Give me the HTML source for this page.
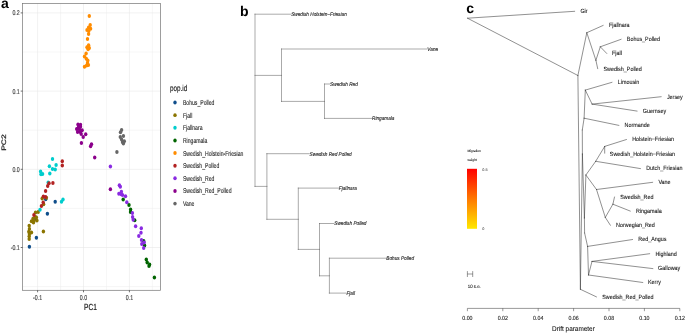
<!DOCTYPE html>
<html><head><meta charset="utf-8"><title>figure</title>
<style>
html,body{margin:0;padding:0;background:#fff;}
body{width:685px;height:333px;overflow:hidden;}
svg{display:block;font-family:"Liberation Sans",sans-serif;will-change:transform;text-rendering:geometricPrecision;}
</style></head><body>
<svg width="685" height="333" viewBox="0 0 685 333">
<rect x="0" y="0" width="685" height="333" fill="#ffffff"/>

<g id="panel-a">
<line x1="60.55" y1="3.4" x2="60.55" y2="290.3" stroke="#ececec" stroke-width="0.5"/>
<line x1="106.45" y1="3.4" x2="106.45" y2="290.3" stroke="#ececec" stroke-width="0.5"/>
<line x1="152.35" y1="3.4" x2="152.35" y2="290.3" stroke="#ececec" stroke-width="0.5"/>
<line x1="22.5" y1="286.60" x2="160.4" y2="286.60" stroke="#ececec" stroke-width="0.5"/>
<line x1="22.5" y1="208.40" x2="160.4" y2="208.40" stroke="#ececec" stroke-width="0.5"/>
<line x1="22.5" y1="130.20" x2="160.4" y2="130.20" stroke="#ececec" stroke-width="0.5"/>
<line x1="22.5" y1="52.00" x2="160.4" y2="52.00" stroke="#ececec" stroke-width="0.5"/>
<line x1="37.60" y1="3.4" x2="37.60" y2="290.3" stroke="#e8e8e8" stroke-width="0.6"/>
<line x1="83.50" y1="3.4" x2="83.50" y2="290.3" stroke="#e8e8e8" stroke-width="0.6"/>
<line x1="129.40" y1="3.4" x2="129.40" y2="290.3" stroke="#e8e8e8" stroke-width="0.6"/>
<line x1="22.5" y1="247.50" x2="160.4" y2="247.50" stroke="#e8e8e8" stroke-width="0.6"/>
<line x1="22.5" y1="169.30" x2="160.4" y2="169.30" stroke="#e8e8e8" stroke-width="0.6"/>
<line x1="22.5" y1="91.10" x2="160.4" y2="91.10" stroke="#e8e8e8" stroke-width="0.6"/>
<line x1="22.5" y1="12.90" x2="160.4" y2="12.90" stroke="#e8e8e8" stroke-width="0.6"/>
<ellipse cx="45.7" cy="199.2" rx="1.7" ry="1.98" fill="#104e8b"/>
<ellipse cx="55.2" cy="201.7" rx="1.7" ry="1.98" fill="#104e8b"/>
<ellipse cx="47.4" cy="213.8" rx="1.7" ry="1.98" fill="#104e8b"/>
<ellipse cx="34.6" cy="218.9" rx="1.7" ry="1.98" fill="#104e8b"/>
<ellipse cx="36.4" cy="237.8" rx="1.7" ry="1.98" fill="#104e8b"/>
<ellipse cx="29.4" cy="246.8" rx="1.7" ry="1.98" fill="#104e8b"/>
<ellipse cx="42.2" cy="198.5" rx="1.7" ry="1.98" fill="#8b7500"/>
<ellipse cx="46.4" cy="197.7" rx="1.7" ry="1.98" fill="#8b7500"/>
<ellipse cx="43.6" cy="204.3" rx="1.7" ry="1.98" fill="#8b7500"/>
<ellipse cx="35.5" cy="212.4" rx="1.7" ry="1.98" fill="#8b7500"/>
<ellipse cx="38.2" cy="212" rx="1.7" ry="1.98" fill="#8b7500"/>
<ellipse cx="36.4" cy="217.6" rx="1.7" ry="1.98" fill="#8b7500"/>
<ellipse cx="33.0" cy="218.8" rx="1.7" ry="1.98" fill="#8b7500"/>
<ellipse cx="31.5" cy="221.2" rx="1.7" ry="1.98" fill="#8b7500"/>
<ellipse cx="36.9" cy="220.4" rx="1.7" ry="1.98" fill="#8b7500"/>
<ellipse cx="33.5" cy="222.4" rx="1.7" ry="1.98" fill="#8b7500"/>
<ellipse cx="35.3" cy="217.0" rx="1.7" ry="1.98" fill="#8b7500"/>
<ellipse cx="34.0" cy="220.6" rx="1.7" ry="1.98" fill="#8b7500"/>
<ellipse cx="29.2" cy="225.7" rx="1.7" ry="1.98" fill="#8b7500"/>
<ellipse cx="29.4" cy="229" rx="1.7" ry="1.98" fill="#8b7500"/>
<ellipse cx="28.8" cy="231.7" rx="1.7" ry="1.98" fill="#8b7500"/>
<ellipse cx="31.5" cy="232.4" rx="1.7" ry="1.98" fill="#8b7500"/>
<ellipse cx="29.4" cy="234" rx="1.7" ry="1.98" fill="#8b7500"/>
<ellipse cx="43.4" cy="231.5" rx="1.7" ry="1.98" fill="#8b7500"/>
<ellipse cx="29.2" cy="236.2" rx="1.7" ry="1.98" fill="#8b7500"/>
<ellipse cx="29.2" cy="238.9" rx="1.7" ry="1.98" fill="#8b7500"/>
<ellipse cx="52.5" cy="159" rx="1.7" ry="1.98" fill="#00cdcd"/>
<ellipse cx="56.1" cy="165.1" rx="1.7" ry="1.98" fill="#00cdcd"/>
<ellipse cx="49.4" cy="166.2" rx="1.7" ry="1.98" fill="#00cdcd"/>
<ellipse cx="52.5" cy="169.1" rx="1.7" ry="1.98" fill="#00cdcd"/>
<ellipse cx="55.2" cy="169.6" rx="1.7" ry="1.98" fill="#00cdcd"/>
<ellipse cx="40.6" cy="171.6" rx="1.7" ry="1.98" fill="#00cdcd"/>
<ellipse cx="42.6" cy="173.9" rx="1.7" ry="1.98" fill="#00cdcd"/>
<ellipse cx="41" cy="174.3" rx="1.7" ry="1.98" fill="#00cdcd"/>
<ellipse cx="49.8" cy="173.6" rx="1.7" ry="1.98" fill="#00cdcd"/>
<ellipse cx="48.2" cy="182.5" rx="1.7" ry="1.98" fill="#00cdcd"/>
<ellipse cx="63" cy="199.5" rx="1.7" ry="1.98" fill="#00cdcd"/>
<ellipse cx="61.5" cy="201.8" rx="1.7" ry="1.98" fill="#00cdcd"/>
<ellipse cx="40" cy="209.7" rx="1.7" ry="1.98" fill="#00cdcd"/>
<ellipse cx="123.2" cy="199.6" rx="1.7" ry="1.98" fill="#006400"/>
<ellipse cx="129" cy="204.9" rx="1.7" ry="1.98" fill="#006400"/>
<ellipse cx="130.6" cy="209.6" rx="1.7" ry="1.98" fill="#006400"/>
<ellipse cx="130.5" cy="212" rx="1.7" ry="1.98" fill="#006400"/>
<ellipse cx="134.7" cy="220.3" rx="1.7" ry="1.98" fill="#006400"/>
<ellipse cx="143.7" cy="240.9" rx="1.7" ry="1.98" fill="#006400"/>
<ellipse cx="144.6" cy="245.4" rx="1.7" ry="1.98" fill="#006400"/>
<ellipse cx="146.3" cy="259.5" rx="1.7" ry="1.98" fill="#006400"/>
<ellipse cx="147.2" cy="262.6" rx="1.7" ry="1.98" fill="#006400"/>
<ellipse cx="149.6" cy="264.4" rx="1.7" ry="1.98" fill="#006400"/>
<ellipse cx="149" cy="266" rx="1.7" ry="1.98" fill="#006400"/>
<ellipse cx="154.4" cy="277.5" rx="1.7" ry="1.98" fill="#006400"/>
<ellipse cx="89.3" cy="16.1" rx="1.7" ry="1.98" fill="#ff8c00"/>
<ellipse cx="90.2" cy="25.1" rx="1.7" ry="1.98" fill="#ff8c00"/>
<ellipse cx="90.6" cy="28.7" rx="1.7" ry="1.98" fill="#ff8c00"/>
<ellipse cx="88.6" cy="27.4" rx="1.7" ry="1.98" fill="#ff8c00"/>
<ellipse cx="87.0" cy="30.1" rx="1.7" ry="1.98" fill="#ff8c00"/>
<ellipse cx="88.8" cy="31" rx="1.7" ry="1.98" fill="#ff8c00"/>
<ellipse cx="88.6" cy="34.0" rx="1.7" ry="1.98" fill="#ff8c00"/>
<ellipse cx="87.5" cy="38.9" rx="1.7" ry="1.98" fill="#ff8c00"/>
<ellipse cx="88.6" cy="45.2" rx="1.7" ry="1.98" fill="#ff8c00"/>
<ellipse cx="87" cy="47.2" rx="1.7" ry="1.98" fill="#ff8c00"/>
<ellipse cx="89.3" cy="47.9" rx="1.7" ry="1.98" fill="#ff8c00"/>
<ellipse cx="88.1" cy="49.2" rx="1.7" ry="1.98" fill="#ff8c00"/>
<ellipse cx="86.1" cy="53.5" rx="1.7" ry="1.98" fill="#ff8c00"/>
<ellipse cx="84.5" cy="56.5" rx="1.7" ry="1.98" fill="#ff8c00"/>
<ellipse cx="86.3" cy="58.7" rx="1.7" ry="1.98" fill="#ff8c00"/>
<ellipse cx="87.8" cy="60.6" rx="1.7" ry="1.98" fill="#ff8c00"/>
<ellipse cx="87.5" cy="63.1" rx="1.7" ry="1.98" fill="#ff8c00"/>
<ellipse cx="88.4" cy="65.1" rx="1.7" ry="1.98" fill="#ff8c00"/>
<ellipse cx="86.6" cy="65.4" rx="1.7" ry="1.98" fill="#ff8c00"/>
<ellipse cx="84.5" cy="66.7" rx="1.7" ry="1.98" fill="#ff8c00"/>
<ellipse cx="62.3" cy="161.2" rx="1.7" ry="1.98" fill="#b22222"/>
<ellipse cx="62.3" cy="165.5" rx="1.7" ry="1.98" fill="#b22222"/>
<ellipse cx="49" cy="183.3" rx="1.7" ry="1.98" fill="#b22222"/>
<ellipse cx="52.9" cy="183.1" rx="1.7" ry="1.98" fill="#b22222"/>
<ellipse cx="47.7" cy="186" rx="1.7" ry="1.98" fill="#b22222"/>
<ellipse cx="45.6" cy="191" rx="1.7" ry="1.98" fill="#b22222"/>
<ellipse cx="43.4" cy="196.6" rx="1.7" ry="1.98" fill="#b22222"/>
<ellipse cx="45.6" cy="197.1" rx="1.7" ry="1.98" fill="#b22222"/>
<ellipse cx="43.2" cy="202.5" rx="1.7" ry="1.98" fill="#b22222"/>
<ellipse cx="41.4" cy="206.1" rx="1.7" ry="1.98" fill="#b22222"/>
<ellipse cx="33.9" cy="215.1" rx="1.7" ry="1.98" fill="#b22222"/>
<ellipse cx="110.4" cy="166.5" rx="1.7" ry="1.98" fill="#8a2be2"/>
<ellipse cx="119.4" cy="185.2" rx="1.7" ry="1.98" fill="#8a2be2"/>
<ellipse cx="120.3" cy="186.7" rx="1.7" ry="1.98" fill="#8a2be2"/>
<ellipse cx="121.4" cy="191.7" rx="1.7" ry="1.98" fill="#8a2be2"/>
<ellipse cx="118.9" cy="193.7" rx="1.7" ry="1.98" fill="#8a2be2"/>
<ellipse cx="121.2" cy="194.2" rx="1.7" ry="1.98" fill="#8a2be2"/>
<ellipse cx="122.5" cy="194.9" rx="1.7" ry="1.98" fill="#8a2be2"/>
<ellipse cx="125.5" cy="196.2" rx="1.7" ry="1.98" fill="#8a2be2"/>
<ellipse cx="126.8" cy="202.3" rx="1.7" ry="1.98" fill="#8a2be2"/>
<ellipse cx="132.4" cy="212.9" rx="1.7" ry="1.98" fill="#8a2be2"/>
<ellipse cx="132.6" cy="217" rx="1.7" ry="1.98" fill="#8a2be2"/>
<ellipse cx="133.2" cy="219.7" rx="1.7" ry="1.98" fill="#8a2be2"/>
<ellipse cx="135.6" cy="226.2" rx="1.7" ry="1.98" fill="#8a2be2"/>
<ellipse cx="141.3" cy="228.2" rx="1.7" ry="1.98" fill="#8a2be2"/>
<ellipse cx="141" cy="232.8" rx="1.7" ry="1.98" fill="#8a2be2"/>
<ellipse cx="138.8" cy="236.1" rx="1.7" ry="1.98" fill="#8a2be2"/>
<ellipse cx="141.5" cy="240" rx="1.7" ry="1.98" fill="#8a2be2"/>
<ellipse cx="144.2" cy="242.4" rx="1.7" ry="1.98" fill="#8a2be2"/>
<ellipse cx="141.8" cy="244" rx="1.7" ry="1.98" fill="#8a2be2"/>
<ellipse cx="143.7" cy="247.9" rx="1.7" ry="1.98" fill="#8a2be2"/>
<ellipse cx="78" cy="124.5" rx="1.7" ry="1.98" fill="#8b008b"/>
<ellipse cx="80.5" cy="124.7" rx="1.7" ry="1.98" fill="#8b008b"/>
<ellipse cx="80.5" cy="126.7" rx="1.7" ry="1.98" fill="#8b008b"/>
<ellipse cx="78.5" cy="127.2" rx="1.7" ry="1.98" fill="#8b008b"/>
<ellipse cx="76.7" cy="129" rx="1.7" ry="1.98" fill="#8b008b"/>
<ellipse cx="79.4" cy="129.2" rx="1.7" ry="1.98" fill="#8b008b"/>
<ellipse cx="82.1" cy="130.3" rx="1.7" ry="1.98" fill="#8b008b"/>
<ellipse cx="77.6" cy="132.1" rx="1.7" ry="1.98" fill="#8b008b"/>
<ellipse cx="80.3" cy="132.1" rx="1.7" ry="1.98" fill="#8b008b"/>
<ellipse cx="81.2" cy="133.9" rx="1.7" ry="1.98" fill="#8b008b"/>
<ellipse cx="85.7" cy="134.2" rx="1.7" ry="1.98" fill="#8b008b"/>
<ellipse cx="83.2" cy="137.1" rx="1.7" ry="1.98" fill="#8b008b"/>
<ellipse cx="81.4" cy="143" rx="1.7" ry="1.98" fill="#8b008b"/>
<ellipse cx="91.5" cy="144.3" rx="1.7" ry="1.98" fill="#8b008b"/>
<ellipse cx="90.6" cy="146.3" rx="1.7" ry="1.98" fill="#8b008b"/>
<ellipse cx="94.7" cy="157.5" rx="1.7" ry="1.98" fill="#8b008b"/>
<ellipse cx="110.4" cy="189.3" rx="1.7" ry="1.98" fill="#8b008b"/>
<ellipse cx="121.6" cy="129.9" rx="1.7" ry="1.98" fill="#666666"/>
<ellipse cx="120.5" cy="132.2" rx="1.7" ry="1.98" fill="#666666"/>
<ellipse cx="123.4" cy="136" rx="1.7" ry="1.98" fill="#666666"/>
<ellipse cx="120.3" cy="137.1" rx="1.7" ry="1.98" fill="#666666"/>
<ellipse cx="121.6" cy="139.4" rx="1.7" ry="1.98" fill="#666666"/>
<ellipse cx="124.3" cy="141.2" rx="1.7" ry="1.98" fill="#666666"/>
<ellipse cx="122.5" cy="142.1" rx="1.7" ry="1.98" fill="#666666"/>
<ellipse cx="123.4" cy="143.6" rx="1.7" ry="1.98" fill="#666666"/>
<ellipse cx="116.9" cy="152.1" rx="1.7" ry="1.98" fill="#666666"/>
<rect x="22.5" y="3.4" width="137.90" height="286.90" fill="none" stroke="#757575" stroke-width="0.7"/>
<line x1="37.60" y1="290.3" x2="37.60" y2="292.3" stroke="#333" stroke-width="0.7"/>
<text transform="translate(37.60,299.90) scale(0.75,1)" font-size="7.0" text-anchor="middle" fill="#4d4d4d" stroke="#4d4d4d" stroke-width="0.2">-0.1</text>
<line x1="83.50" y1="290.3" x2="83.50" y2="292.3" stroke="#333" stroke-width="0.7"/>
<text transform="translate(83.50,299.90) scale(0.75,1)" font-size="7.0" text-anchor="middle" fill="#4d4d4d" stroke="#4d4d4d" stroke-width="0.2">0.0</text>
<line x1="129.40" y1="290.3" x2="129.40" y2="292.3" stroke="#333" stroke-width="0.7"/>
<text transform="translate(129.40,299.90) scale(0.75,1)" font-size="7.0" text-anchor="middle" fill="#4d4d4d" stroke="#4d4d4d" stroke-width="0.2">0.1</text>
<line x1="20.7" y1="247.50" x2="22.5" y2="247.50" stroke="#333" stroke-width="0.7"/>
<text transform="translate(19.70,250.00) scale(0.75,1)" font-size="7.0" text-anchor="end" fill="#4d4d4d" stroke="#4d4d4d" stroke-width="0.2">-0.1</text>
<line x1="20.7" y1="169.30" x2="22.5" y2="169.30" stroke="#333" stroke-width="0.7"/>
<text transform="translate(19.70,171.80) scale(0.75,1)" font-size="7.0" text-anchor="end" fill="#4d4d4d" stroke="#4d4d4d" stroke-width="0.2">0.0</text>
<line x1="20.7" y1="91.10" x2="22.5" y2="91.10" stroke="#333" stroke-width="0.7"/>
<text transform="translate(19.70,93.60) scale(0.75,1)" font-size="7.0" text-anchor="end" fill="#4d4d4d" stroke="#4d4d4d" stroke-width="0.2">0.1</text>
<line x1="20.7" y1="12.90" x2="22.5" y2="12.90" stroke="#333" stroke-width="0.7"/>
<text transform="translate(19.70,15.40) scale(0.75,1)" font-size="7.0" text-anchor="end" fill="#4d4d4d" stroke="#4d4d4d" stroke-width="0.2">0.2</text>
<text transform="translate(90.40,310.40) scale(0.75,1)" font-size="8.8" text-anchor="middle" fill="#1a1a1a" stroke="#1a1a1a" stroke-width="0.2">PC1</text>
<text transform="translate(5.9,142.5) scale(0.75,1) rotate(-90)" font-size="8.6" text-anchor="middle" fill="#1a1a1a" stroke="#1a1a1a" stroke-width="0.3">PC2</text>
<text x="0.9" y="7.5" font-size="14" font-weight="bold" fill="#000">a</text>
<text transform="translate(169.90,91.40) scale(0.74,1)" font-size="8.6" text-anchor="start" fill="#1a1a1a" stroke="#1a1a1a" stroke-width="0.15">pop.id</text>
<ellipse cx="175" cy="102.50" rx="1.7" ry="1.98" fill="#104e8b"/>
<text transform="translate(182.90,105.00) scale(0.73,1)" font-size="7.0" text-anchor="start" fill="#222" stroke="#222" stroke-width="0.1">Bohus_Polled</text>
<ellipse cx="175" cy="115.14" rx="1.7" ry="1.98" fill="#8b7500"/>
<text transform="translate(182.90,117.64) scale(0.73,1)" font-size="7.0" text-anchor="start" fill="#222" stroke="#222" stroke-width="0.1">Fjall</text>
<ellipse cx="175" cy="127.78" rx="1.7" ry="1.98" fill="#00cdcd"/>
<text transform="translate(182.90,130.28) scale(0.73,1)" font-size="7.0" text-anchor="start" fill="#222" stroke="#222" stroke-width="0.1">Fjallnara</text>
<ellipse cx="175" cy="140.42" rx="1.7" ry="1.98" fill="#006400"/>
<text transform="translate(182.90,142.92) scale(0.73,1)" font-size="7.0" text-anchor="start" fill="#222" stroke="#222" stroke-width="0.1">Ringamala</text>
<ellipse cx="175" cy="153.06" rx="1.7" ry="1.98" fill="#ff8c00"/>
<text transform="translate(182.90,155.56) scale(0.73,1)" font-size="7.0" text-anchor="start" fill="#222" stroke="#222" stroke-width="0.1">Swedish_Holstein-Friesian</text>
<ellipse cx="175" cy="165.70" rx="1.7" ry="1.98" fill="#b22222"/>
<text transform="translate(182.90,168.20) scale(0.73,1)" font-size="7.0" text-anchor="start" fill="#222" stroke="#222" stroke-width="0.1">Swedish_Polled</text>
<ellipse cx="175" cy="178.34" rx="1.7" ry="1.98" fill="#8a2be2"/>
<text transform="translate(182.90,180.84) scale(0.73,1)" font-size="7.0" text-anchor="start" fill="#222" stroke="#222" stroke-width="0.1">Swedish_Red</text>
<ellipse cx="175" cy="190.98" rx="1.7" ry="1.98" fill="#8b008b"/>
<text transform="translate(182.90,193.48) scale(0.73,1)" font-size="7.0" text-anchor="start" fill="#222" stroke="#222" stroke-width="0.1">Swedish_Red_Polled</text>
<ellipse cx="175" cy="203.62" rx="1.7" ry="1.98" fill="#666666"/>
<text transform="translate(182.90,206.12) scale(0.73,1)" font-size="7.0" text-anchor="start" fill="#222" stroke="#222" stroke-width="0.1">Vane</text>
</g>
<g id="panel-b">
<text x="240" y="15.6" font-size="14" font-weight="bold" fill="#000">b</text>
<path d="M255 14.2L255 186.4 M255 14.2L291 14.2 M255 75.4L281.5 75.4 M281.5 49L281.5 101.4 M281.5 49L426.9 49 M281.5 101.4L324.5 101.4 M324.5 84L324.5 118.4 M324.5 84L329.8 84 M324.5 118.4L371.7 118.4 M255 186.4L266.9 186.4 M266.9 153.7L266.9 219.3 M266.9 153.7L309.3 153.7 M266.9 219.3L298.3 219.3 M298.3 188.1L298.3 249.4 M298.3 188.1L338.5 188.1 M298.3 249.4L319.5 249.4 M319.5 223.5L319.5 275.8 M319.5 223.5L334 223.5 M319.5 275.8L329.4 275.8 M329.4 258.2L329.4 293.1 M329.4 258.2L386 258.2 M329.4 293.1L346.1 293.1" fill="none" stroke="#555" stroke-width="0.5" stroke-linecap="square"/>
<text transform="translate(291.2,16.15) scale(0.855,1)" font-size="5.5" font-style="italic" fill="#222" stroke="#222" stroke-width="0.12">Swedish Holstein−Friesian</text>
<text transform="translate(427.3,50.95) scale(0.855,1)" font-size="5.5" font-style="italic" fill="#222" stroke="#222" stroke-width="0.12">Vane</text>
<text transform="translate(330.1,85.95) scale(0.855,1)" font-size="5.5" font-style="italic" fill="#222" stroke="#222" stroke-width="0.12">Swedish Red</text>
<text transform="translate(372,120.35) scale(0.855,1)" font-size="5.5" font-style="italic" fill="#222" stroke="#222" stroke-width="0.12">Ringamala</text>
<text transform="translate(309.6,155.65) scale(0.855,1)" font-size="5.5" font-style="italic" fill="#222" stroke="#222" stroke-width="0.12">Swedish Red Polled</text>
<text transform="translate(338.8,190.05) scale(0.855,1)" font-size="5.5" font-style="italic" fill="#222" stroke="#222" stroke-width="0.12">Fjallnara</text>
<text transform="translate(334.3,225.45) scale(0.855,1)" font-size="5.5" font-style="italic" fill="#222" stroke="#222" stroke-width="0.12">Swedish Polled</text>
<text transform="translate(386.3,260.15) scale(0.855,1)" font-size="5.5" font-style="italic" fill="#222" stroke="#222" stroke-width="0.12">Bohus Polled</text>
<text transform="translate(346.4,295.05) scale(0.855,1)" font-size="5.5" font-style="italic" fill="#222" stroke="#222" stroke-width="0.12">Fjall</text>
</g>
<g id="panel-c">
<text x="466.2" y="12.6" font-size="14" font-weight="bold" fill="#000">c</text>
<path d="M467.5 18.2L574.7 11.3 M467.5 18.2L577.9 75.5 M577.9 75.5L586.8 32.7 M586.8 32.7L603.2 25.4 M586.8 32.7L595.9 60.3 M595.9 60.3L597.7 68.7 M595.9 60.3L600.3 46.8 M600.3 46.8L621.1 39.3 M600.3 46.8L606.8 53.5 M577.9 75.5L580.4 289.3 M580.4 289.3L596.5 296.9 M580.4 289.3L582.4 154 M582.4 154L582.3 130 M582.3 130L584.1 118.2 M584.1 118.2L618.9 125.4 M584.1 118.2L585.3 90.1 M585.3 90.1L612 82.3 M585.3 90.1L592.1 104.1 M592.1 104.1L661.2 96.7 M592.1 104.1L637.1 111.1 M582.4 154L584.4 218 M584.4 218L585.9 175 M585.9 175L595.7 161.3 M595.7 161.3L604.7 146.4 M604.7 146.4L626.5 139.5 M604.7 146.4L604.7 153.2 M595.7 161.3L640.5 168.6 M585.9 175L596.5 189.5 M596.5 189.5L652.7 182.3 M596.5 189.5L605.3 217.4 M605.3 217.4L612.9 204.2 M612.9 204.2L614.5 197 M612.9 204.2L630.3 211.1 M605.3 217.4L610.4 225.3 M584.4 218L584.6 233 M584.6 233L587.6 246.4 M587.6 246.4L632.6 239.5 M587.6 246.4L588.5 275 M588.5 275L592 261.4 M592 261.4L649.7 253.7 M592 261.4L652.9 268.6 M588.5 275L642.8 282.5" fill="none" stroke="#222" stroke-width="0.5" stroke-linecap="round"/>
<text transform="translate(580.40,12.80) scale(0.90,1)" font-size="6.0" fill="#111" stroke="#111" stroke-width="0.08">Gir</text>
<text transform="translate(608.90,26.90) scale(0.90,1)" font-size="6.0" fill="#111" stroke="#111" stroke-width="0.08">Fjallnara</text>
<text transform="translate(626.80,41.10) scale(0.90,1)" font-size="6.0" fill="#111" stroke="#111" stroke-width="0.08">Bohus_Polled</text>
<text transform="translate(612.00,55.30) scale(0.90,1)" font-size="6.0" fill="#111" stroke="#111" stroke-width="0.08">Fjall</text>
<text transform="translate(603.40,70.50) scale(0.90,1)" font-size="6.0" fill="#111" stroke="#111" stroke-width="0.08">Swedish_Polled</text>
<text transform="translate(617.70,84.10) scale(0.90,1)" font-size="6.0" fill="#111" stroke="#111" stroke-width="0.08">Limousin</text>
<text transform="translate(666.90,98.50) scale(0.90,1)" font-size="6.0" fill="#111" stroke="#111" stroke-width="0.08">Jersey</text>
<text transform="translate(642.80,112.90) scale(0.90,1)" font-size="6.0" fill="#111" stroke="#111" stroke-width="0.08">Guernsey</text>
<text transform="translate(624.60,127.20) scale(0.90,1)" font-size="6.0" fill="#111" stroke="#111" stroke-width="0.08">Normande</text>
<text transform="translate(632.20,141.30) scale(0.90,1)" font-size="6.0" fill="#111" stroke="#111" stroke-width="0.08">Holstein−Friesian</text>
<text transform="translate(609.80,155.70) scale(0.90,1)" font-size="6.0" fill="#111" stroke="#111" stroke-width="0.08">Swedish_Holstein−Friesian</text>
<text transform="translate(646.20,170.40) scale(0.90,1)" font-size="6.0" fill="#111" stroke="#111" stroke-width="0.08">Dutch_Friesian</text>
<text transform="translate(658.40,184.10) scale(0.90,1)" font-size="6.0" fill="#111" stroke="#111" stroke-width="0.08">Vane</text>
<text transform="translate(620.20,198.80) scale(0.90,1)" font-size="6.0" fill="#111" stroke="#111" stroke-width="0.08">Swedish_Red</text>
<text transform="translate(636.00,212.90) scale(0.90,1)" font-size="6.0" fill="#111" stroke="#111" stroke-width="0.08">Ringamala</text>
<text transform="translate(616.10,226.60) scale(0.90,1)" font-size="6.0" fill="#111" stroke="#111" stroke-width="0.08">Norwegian_Red</text>
<text transform="translate(638.30,241.30) scale(0.90,1)" font-size="6.0" fill="#111" stroke="#111" stroke-width="0.08">Red_Angus</text>
<text transform="translate(655.40,255.50) scale(0.90,1)" font-size="6.0" fill="#111" stroke="#111" stroke-width="0.08">Highland</text>
<text transform="translate(658.10,270.40) scale(0.90,1)" font-size="6.0" fill="#111" stroke="#111" stroke-width="0.08">Galloway</text>
<text transform="translate(648.00,284.30) scale(0.90,1)" font-size="6.0" fill="#111" stroke="#111" stroke-width="0.08">Kerry</text>
<text transform="translate(602.20,298.70) scale(0.90,1)" font-size="6.0" fill="#111" stroke="#111" stroke-width="0.08">Swedish_Red_Polled</text>
<path d="M467.4 308.4H679.80 M467.40 308.4V311.2 M502.80 308.4V311.2 M538.20 308.4V311.2 M573.60 308.4V311.2 M609.00 308.4V311.2 M644.40 308.4V311.2 M679.80 308.4V311.2" fill="none" stroke="#333" stroke-width="0.5"/>
<text transform="translate(467.40,320.4) scale(0.9,1)" font-size="5.9" text-anchor="middle" fill="#111" stroke="#111" stroke-width="0.08">0.00</text>
<text transform="translate(502.80,320.4) scale(0.9,1)" font-size="5.9" text-anchor="middle" fill="#111" stroke="#111" stroke-width="0.08">0.02</text>
<text transform="translate(538.20,320.4) scale(0.9,1)" font-size="5.9" text-anchor="middle" fill="#111" stroke="#111" stroke-width="0.08">0.04</text>
<text transform="translate(573.60,320.4) scale(0.9,1)" font-size="5.9" text-anchor="middle" fill="#111" stroke="#111" stroke-width="0.08">0.06</text>
<text transform="translate(609.00,320.4) scale(0.9,1)" font-size="5.9" text-anchor="middle" fill="#111" stroke="#111" stroke-width="0.08">0.08</text>
<text transform="translate(644.40,320.4) scale(0.9,1)" font-size="5.9" text-anchor="middle" fill="#111" stroke="#111" stroke-width="0.08">0.10</text>
<text transform="translate(679.80,320.4) scale(0.9,1)" font-size="5.9" text-anchor="middle" fill="#111" stroke="#111" stroke-width="0.08">0.12</text>
<text transform="translate(573.4,331.0) scale(0.93,1)" font-size="6.9" text-anchor="middle" fill="#111" stroke="#111" stroke-width="0.08">Drift parameter</text>
<defs><linearGradient id="mg" x1="0" y1="0" x2="0" y2="1"><stop offset="0" stop-color="#ff0000"/><stop offset="0.5" stop-color="#ff7800"/><stop offset="1" stop-color="#ffe800"/></linearGradient></defs>
<rect x="467" y="168.8" width="10" height="60" fill="url(#mg)"/>
<text x="467.4" y="151.9" font-size="3.3" fill="#111" stroke="#111" stroke-width="0.06">Migration</text>
<text x="467.4" y="160.6" font-size="3.3" fill="#111" stroke="#111" stroke-width="0.06">weight</text>
<text x="482.3" y="170.5" font-size="3.8" fill="#222">0.5</text>
<text x="482.3" y="230.4" font-size="3.8" fill="#222">0</text>
<path d="M467.4 271.1V277M472.7 271.1V277M467.4 274H472.7" fill="none" stroke="#333" stroke-width="0.5"/>
<text transform="translate(467.8,287.6) scale(0.9,1)" font-size="4.8" fill="#111" stroke="#111" stroke-width="0.08">10 s.e.</text>
</g>
</svg></body></html>
